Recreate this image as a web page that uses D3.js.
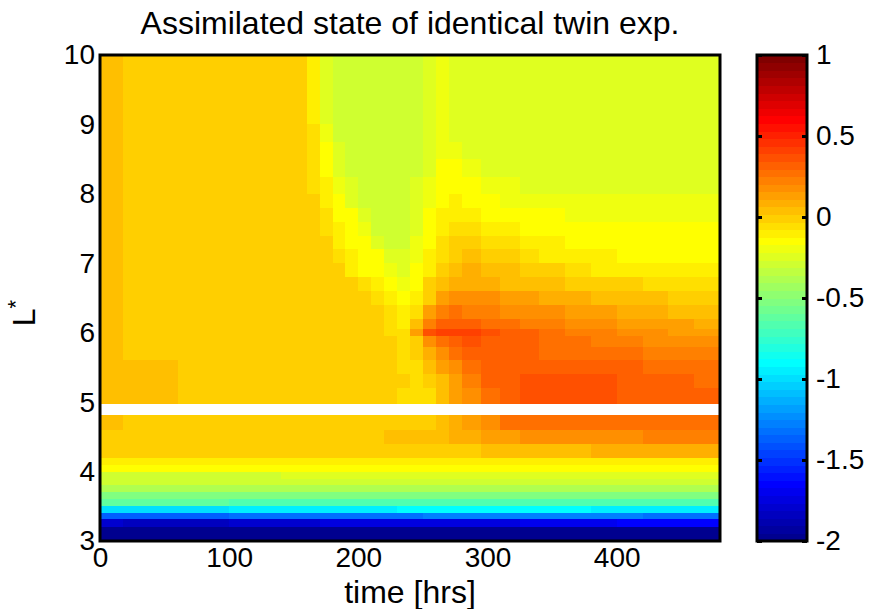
<!DOCTYPE html>
<html><head><meta charset="utf-8">
<script src="https://cdn.jsdelivr.net/npm/d3@7"></script>
<style>body{margin:0;background:#fff} text{font-family:"Liberation Sans",Arial,Helvetica,sans-serif;fill:#000}</style>
</head><body><svg id="c" width="876" height="609"></svg>
<script>
// time bin edges (hrs)
const timeEdges = [0,18,60,100,140,160,170,180,190,200,210,220,230,240,250,260,270,280,295,310,325,340,360,380,400,420,440,460,480];
// L* row bounds, top row first (gap 4.82-4.98 has no data)
const rowHigh = [10,9.5,9,8.75,8.5,8.25,8,7.8,7.6,7.4,7.2,7,6.8,6.6,6.4,6.2,6.05,5.95,5.8,5.6,5.4,5.2,4.82,4.6,4.4,4.2,4.1,4,3.9,3.8,3.7,3.6,3.5,3.4,3.32,3.2];
const rowLow  = [9.5,9,8.75,8.5,8.25,8,7.8,7.6,7.4,7.2,7,6.8,6.6,6.4,6.2,6.05,5.95,5.8,5.6,5.4,5.2,4.98,4.6,4.4,4.2,4.1,4,3.9,3.8,3.7,3.6,3.5,3.4,3.32,3.2,3];
// state values, one row per L* band (top first), one value per time bin
const stateValues = [
[0.05,0.01,0.01,0.01,0.01,-0.1,-0.24,-0.29,-0.29,-0.29,-0.29,-0.29,-0.29,-0.29,-0.25,-0.2,-0.24,-0.24,-0.24,-0.24,-0.24,-0.24,-0.24,-0.24,-0.24,-0.24,-0.24,-0.24],
[0.05,0.01,0.01,0.01,0.01,-0.08,-0.22,-0.29,-0.29,-0.29,-0.29,-0.29,-0.29,-0.29,-0.25,-0.2,-0.24,-0.24,-0.24,-0.24,-0.24,-0.24,-0.24,-0.24,-0.24,-0.24,-0.24,-0.24],
[0.05,0.01,0.01,0.01,0.01,-0.07,-0.2,-0.28,-0.29,-0.29,-0.29,-0.29,-0.29,-0.29,-0.25,-0.2,-0.24,-0.24,-0.24,-0.24,-0.24,-0.24,-0.24,-0.24,-0.24,-0.24,-0.24,-0.24],
[0.05,0.01,0.01,0.01,0.01,-0.06,-0.17,-0.26,-0.29,-0.29,-0.29,-0.29,-0.29,-0.29,-0.24,-0.19,-0.21,-0.24,-0.24,-0.24,-0.24,-0.24,-0.24,-0.24,-0.24,-0.24,-0.24,-0.24],
[0.05,0.01,0.01,0.01,0.01,-0.05,-0.14,-0.22,-0.28,-0.29,-0.29,-0.29,-0.29,-0.27,-0.22,-0.17,-0.16,-0.2,-0.22,-0.23,-0.23,-0.23,-0.23,-0.23,-0.23,-0.23,-0.23,-0.23],
[0.05,0.01,0.01,0.01,0.01,-0.04,-0.12,-0.18,-0.26,-0.29,-0.29,-0.29,-0.29,-0.26,-0.2,-0.15,-0.13,-0.16,-0.19,-0.21,-0.22,-0.22,-0.22,-0.22,-0.22,-0.22,-0.22,-0.22],
[0.05,0.01,0.01,0.01,0.01,-0.02,-0.1,-0.15,-0.22,-0.28,-0.29,-0.29,-0.29,-0.26,-0.18,-0.14,-0.11,-0.13,-0.16,-0.18,-0.19,-0.2,-0.2,-0.2,-0.2,-0.2,-0.2,-0.2],
[0.05,0.01,0.01,0.01,0.01,-0.01,-0.07,-0.13,-0.17,-0.24,-0.29,-0.29,-0.29,-0.25,-0.17,-0.12,-0.08,-0.1,-0.13,-0.15,-0.16,-0.17,-0.18,-0.18,-0.18,-0.18,-0.18,-0.18],
[0.05,0.01,0.01,0.01,0.01,0.0,-0.05,-0.12,-0.15,-0.19,-0.27,-0.29,-0.28,-0.22,-0.15,-0.09,-0.05,-0.06,-0.1,-0.12,-0.14,-0.15,-0.15,-0.16,-0.17,-0.17,-0.17,-0.17],
[0.05,0.01,0.01,0.01,0.01,0.01,-0.03,-0.09,-0.14,-0.16,-0.22,-0.28,-0.27,-0.2,-0.14,-0.06,-0.02,-0.01,-0.04,-0.07,-0.1,-0.12,-0.14,-0.14,-0.15,-0.15,-0.15,-0.15],
[0.05,0.01,0.01,0.01,0.01,0.01,-0.02,-0.06,-0.12,-0.15,-0.17,-0.24,-0.26,-0.18,-0.12,-0.04,0.01,0.03,0.01,-0.02,-0.05,-0.08,-0.11,-0.12,-0.13,-0.14,-0.14,-0.14],
[0.05,0.01,0.01,0.01,0.01,0.01,0.0,-0.03,-0.08,-0.13,-0.15,-0.2,-0.24,-0.16,-0.08,0.01,0.06,0.08,0.06,0.03,0.01,-0.02,-0.05,-0.08,-0.1,-0.11,-0.12,-0.12],
[0.05,0.01,0.01,0.01,0.01,0.01,0.01,0.01,-0.02,-0.07,-0.12,-0.15,-0.19,-0.14,-0.02,0.06,0.09,0.1,0.08,0.06,0.05,0.03,0.01,-0.01,-0.03,-0.04,-0.05,-0.07],
[0.05,0.01,0.01,0.01,0.01,0.01,0.01,0.01,0.01,-0.01,-0.05,-0.11,-0.15,-0.12,0.01,0.12,0.16,0.17,0.16,0.14,0.12,0.1,0.08,0.06,0.04,0.02,0.01,0.0],
[0.05,0.01,0.01,0.01,0.01,0.01,0.01,0.01,0.01,0.0,-0.02,-0.06,-0.12,-0.05,0.13,0.23,0.25,0.24,0.22,0.2,0.18,0.16,0.13,0.11,0.09,0.07,0.05,0.04],
[0.05,0.01,0.01,0.01,0.01,0.01,0.01,0.01,0.01,0.01,-0.01,-0.04,-0.08,0.03,0.23,0.31,0.33,0.31,0.28,0.25,0.23,0.21,0.19,0.17,0.15,0.13,0.11,0.1],
[0.05,0.01,0.01,0.01,0.01,0.01,0.01,0.01,0.01,0.01,-0.01,-0.04,-0.05,0.13,0.36,0.42,0.43,0.4,0.36,0.33,0.3,0.27,0.24,0.22,0.19,0.17,0.15,0.14],
[0.05,0.01,0.01,0.01,0.01,0.01,0.01,0.01,0.01,0.01,0.0,-0.02,-0.04,0.01,0.18,0.28,0.34,0.35,0.34,0.32,0.3,0.28,0.26,0.24,0.22,0.2,0.19,0.18],
[0.05,0.01,0.01,0.01,0.01,0.01,0.01,0.01,0.01,0.01,-0.01,-0.02,-0.04,-0.03,0.08,0.18,0.26,0.31,0.32,0.31,0.3,0.28,0.27,0.26,0.25,0.24,0.23,0.22],
[0.05,0.04,0.01,0.01,0.01,0.01,0.01,0.01,0.01,0.01,0.0,-0.02,-0.04,-0.04,0.02,0.11,0.2,0.28,0.31,0.32,0.33,0.33,0.33,0.32,0.31,0.29,0.28,0.27],
[0.05,0.04,0.01,0.01,0.01,0.01,0.01,0.01,0.01,0.01,0.0,-0.01,-0.03,-0.05,-0.02,0.06,0.13,0.22,0.3,0.34,0.36,0.36,0.36,0.35,0.33,0.31,0.3,0.29],
[0.05,0.04,0.01,0.01,0.01,0.01,0.01,0.01,0.01,0.01,0.0,-0.02,-0.05,-0.06,-0.04,0.04,0.11,0.18,0.26,0.34,0.38,0.39,0.38,0.36,0.34,0.32,0.31,0.31],
[0.02,0.01,0.01,0.01,0.01,0.01,0.01,0.01,0.01,0.01,0.01,0.01,0.01,0.01,0.01,0.04,0.08,0.13,0.2,0.25,0.27,0.28,0.28,0.28,0.28,0.27,0.27,0.27],
[0.0,0.0,0.0,0.0,0.0,0.0,0.0,0.0,0.0,0.0,0.01,0.02,0.03,0.04,0.05,0.06,0.07,0.08,0.11,0.14,0.16,0.17,0.18,0.19,0.2,0.21,0.22,0.22],
[-0.03,-0.03,-0.03,-0.03,-0.03,0.0,0.0,0.0,0.0,0.0,0.0,0.0,0.0,0.0,0.0,0.0,0.0,0.01,0.03,0.04,0.05,0.06,0.06,0.07,0.07,0.08,0.09,0.1],
[-0.1,-0.1,-0.1,-0.1,-0.1,-0.1,-0.1,-0.1,-0.1,-0.1,-0.1,-0.1,-0.1,-0.1,-0.1,-0.1,-0.1,-0.08,-0.08,-0.08,-0.08,-0.08,-0.08,-0.08,-0.08,-0.08,-0.08,-0.08],
[-0.15,-0.15,-0.15,-0.15,-0.15,-0.15,-0.15,-0.15,-0.15,-0.15,-0.15,-0.15,-0.15,-0.15,-0.15,-0.15,-0.15,-0.15,-0.15,-0.15,-0.15,-0.15,-0.15,-0.15,-0.15,-0.15,-0.15,-0.15],
[-0.28,-0.28,-0.28,-0.28,-0.24,-0.24,-0.24,-0.24,-0.24,-0.24,-0.24,-0.24,-0.24,-0.24,-0.24,-0.24,-0.24,-0.24,-0.24,-0.24,-0.24,-0.24,-0.24,-0.24,-0.24,-0.24,-0.24,-0.24],
[-0.31,-0.31,-0.31,-0.31,-0.31,-0.31,-0.31,-0.31,-0.31,-0.31,-0.31,-0.31,-0.31,-0.31,-0.31,-0.31,-0.31,-0.31,-0.31,-0.31,-0.31,-0.31,-0.31,-0.31,-0.31,-0.31,-0.31,-0.31],
[-0.38,-0.38,-0.38,-0.38,-0.38,-0.38,-0.38,-0.38,-0.38,-0.38,-0.38,-0.38,-0.38,-0.38,-0.38,-0.38,-0.38,-0.38,-0.38,-0.38,-0.38,-0.38,-0.38,-0.38,-0.38,-0.38,-0.38,-0.38],
[-0.52,-0.52,-0.52,-0.52,-0.52,-0.52,-0.52,-0.52,-0.52,-0.52,-0.52,-0.52,-0.52,-0.52,-0.52,-0.52,-0.52,-0.52,-0.52,-0.52,-0.52,-0.52,-0.52,-0.52,-0.52,-0.52,-0.52,-0.52],
[-0.6,-0.6,-0.62,-0.66,-0.66,-0.66,-0.66,-0.66,-0.66,-0.66,-0.66,-0.66,-0.66,-0.66,-0.66,-0.66,-0.66,-0.66,-0.66,-0.66,-0.66,-0.66,-0.66,-0.66,-0.66,-0.66,-0.66,-0.66],
[-0.99,-0.99,-0.97,-0.94,-0.94,-0.94,-0.94,-0.94,-0.94,-0.94,-0.94,-0.94,-0.9,-0.9,-0.9,-0.9,-0.9,-0.9,-0.9,-0.9,-0.9,-0.9,-0.9,-0.94,-0.94,-0.94,-0.94,-0.94],
[-1.37,-1.37,-1.37,-1.32,-1.32,-1.32,-1.32,-1.32,-1.32,-1.32,-1.32,-1.32,-1.32,-1.32,-1.27,-1.27,-1.27,-1.27,-1.27,-1.27,-1.27,-1.27,-1.27,-1.27,-1.27,-1.32,-1.32,-1.32],
[-1.79,-1.84,-1.84,-1.79,-1.79,-1.79,-1.74,-1.74,-1.74,-1.74,-1.74,-1.74,-1.74,-1.74,-1.74,-1.74,-1.74,-1.74,-1.74,-1.74,-1.69,-1.69,-1.69,-1.69,-1.64,-1.64,-1.64,-1.64],
[-1.98,-1.98,-1.98,-1.98,-1.98,-1.98,-1.98,-1.98,-1.98,-1.98,-1.98,-1.98,-1.98,-1.98,-1.98,-1.98,-1.98,-1.98,-1.98,-1.98,-1.98,-1.98,-1.98,-1.98,-1.98,-1.98,-1.98,-1.98]
];
const xTicks = [0,100,200,300,400];
const yTicks = [3,4,5,6,7,8,9,10];
const cbTicks = [-2,-1.5,-1,-0.5,0,0.5,1];
const titleText = "Assimilated state of identical twin exp.";
const xLabel = "time [hrs]";

const svg = d3.select("#c");
const M = {l:100, r:720, t:55, b:541};
const cb = {l:757, r:807};
const x = d3.scaleLinear().domain([0,480]).range([M.l, M.r]);
const y = d3.scaleLinear().domain([3,10]).range([M.b, M.t]);
const yc = d3.scaleLinear().domain([-2,1]).range([M.b, M.t]);

// MATLAB jet(64)
const NC = 64, n4 = 16;
const u = [...d3.range(1,n4+1).map(i=>i/n4), ...d3.range(n4-1).map(()=>1), ...d3.range(n4,0,-1).map(i=>i/n4)];
const g0 = Math.ceil(n4/2) - (NC%4===1?1:0);
function ch(k, off){ const idx = k - g0 - off; return (idx>=1 && idx<=u.length) ? u[idx-1] : 0; }
const jet = d3.range(1,NC+1).map(k=>d3.rgb(255*ch(k,n4), 255*ch(k,0), 255*ch(k,-n4)).formatHex());
const color = d3.scaleQuantize().domain([-2,1]).range(jet);

// heatmap cells
const cells = [];
stateValues.forEach((row,i)=>row.forEach((v,j)=>cells.push({i,j,v})));
svg.append("g").attr("shape-rendering","crispEdges").selectAll("rect").data(cells).join("rect")
  .attr("x", d=>x(timeEdges[d.j]))
  .attr("y", d=>y(rowHigh[d.i]))
  .attr("width", d=>x(timeEdges[d.j+1])-x(timeEdges[d.j])+0.6)
  .attr("height", d=>y(rowLow[d.i])-y(rowHigh[d.i])+0.6)
  .attr("fill", d=>color(d.v));

// frame
svg.append("rect").attr("x",M.l).attr("y",M.t).attr("width",M.r-M.l).attr("height",M.b-M.t)
  .attr("fill","none").attr("stroke","#000").attr("stroke-width",3);

const fs = 28, fl = 32;
const ff = "Liberation Sans, Arial, sans-serif";
const gx = svg.append("g").attr("transform",`translate(0,${M.b})`)
  .call(d3.axisBottom(x).tickValues(xTicks).tickSize(0).tickPadding(6).tickFormat(d=>String(d)));
gx.select(".domain").remove();
gx.selectAll("text").attr("font-size",fs).attr("font-family",ff).attr("dy","0.72em");
const gy = svg.append("g").attr("transform",`translate(${M.l},0)`)
  .call(d3.axisLeft(y).tickValues(yTicks).tickSize(0).tickPadding(5).tickFormat(d=>String(d)));
gy.select(".domain").remove();
gy.selectAll("text").attr("font-size",fs).attr("font-family",ff);

svg.append("text").attr("x",(M.l+M.r)/2).attr("y",34).attr("text-anchor","middle").attr("font-size",fl).text(titleText);
svg.append("text").attr("x",(M.l+M.r)/2).attr("y",603).attr("text-anchor","middle").attr("font-size",fl).text(xLabel);
const yl = svg.append("text").attr("transform",`translate(35,313) rotate(-90)`).attr("text-anchor","middle").attr("font-size",fl);
yl.append("tspan").text("L");
yl.append("tspan").attr("font-size",22).attr("dy",-12).text("*");

// colorbar
svg.append("g").attr("shape-rendering","crispEdges").selectAll("rect").data(jet).join("rect")
  .attr("x",cb.l).attr("width",cb.r-cb.l)
  .attr("y",(c,k)=>yc(-2+3*(k+1)/NC)).attr("height",(c,k)=>yc(-2+3*k/NC)-yc(-2+3*(k+1)/NC)+0.6)
  .attr("fill",c=>c);
svg.append("rect").attr("x",cb.l).attr("y",M.t).attr("width",cb.r-cb.l).attr("height",M.b-M.t)
  .attr("fill","none").attr("stroke","#000").attr("stroke-width",3);
const gc = svg.append("g").attr("transform",`translate(${cb.r},0)`)
  .call(d3.axisRight(yc).tickValues(cbTicks).tickSize(-5).tickPadding(9).tickFormat(d=>String(d)));
gc.select(".domain").remove();
gc.selectAll("line").attr("stroke","#000").attr("stroke-width",3);
gc.selectAll("text").attr("font-size",fs).attr("font-family",ff);
const gc2 = svg.append("g").attr("transform",`translate(${cb.l},0)`)
  .call(d3.axisRight(yc).tickValues(cbTicks).tickSize(5).tickFormat(""));
gc2.select(".domain").remove();
gc2.selectAll("line").attr("stroke","#000").attr("stroke-width",3);
</script></body></html>
